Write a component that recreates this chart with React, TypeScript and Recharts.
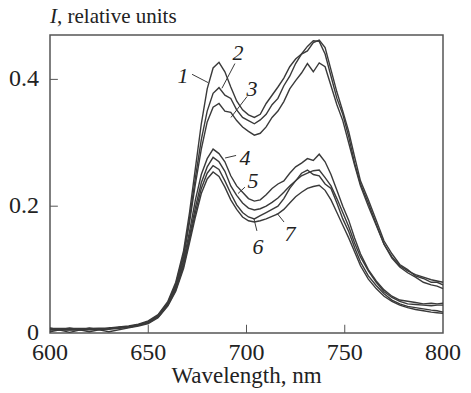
import { LineChart, Line, XAxis, YAxis, ReferenceLine, ReferenceArea, ReferenceDot } from "recharts";

// wavelength grid, nm
const wavelengths = [
  600, 610, 620, 630, 640, 645, 650, 655, 660, 664, 668, 671, 674, 677, 680, 683, 686, 689, 692, 695,
  698, 701, 704, 707, 710, 713, 716, 719, 722, 725, 728, 731, 734, 737, 740, 743, 746, 749, 752, 755,
  758, 762, 766, 770, 774, 778, 782, 786, 790, 794, 797, 800,
];

const curve1 = [
  0.007, 0.007, 0.007, 0.008, 0.011, 0.014, 0.019, 0.029, 0.05, 0.08, 0.13, 0.19, 0.26, 0.33, 0.385, 0.418, 0.427, 0.412, 0.388, 0.366,
  0.352, 0.344, 0.34, 0.345, 0.362, 0.375, 0.388, 0.402, 0.42, 0.432, 0.44, 0.452, 0.461, 0.46, 0.44, 0.405, 0.37, 0.345, 0.31, 0.268,
  0.235, 0.205, 0.172, 0.14, 0.12, 0.106, 0.098, 0.092, 0.088, 0.084, 0.082, 0.08,
];
const curve2 = [
  0.006, 0.006, 0.006, 0.007, 0.01, 0.013, 0.018, 0.028, 0.048, 0.077, 0.125, 0.18, 0.245, 0.305, 0.35, 0.378, 0.387, 0.375, 0.37, 0.352,
  0.34, 0.335, 0.33, 0.336, 0.345, 0.36, 0.37, 0.39, 0.405, 0.425, 0.44, 0.445, 0.458, 0.462, 0.45, 0.415, 0.38, 0.35, 0.318, 0.278,
  0.24, 0.21, 0.178, 0.145, 0.125, 0.108, 0.1, 0.09, 0.086, 0.08, 0.08, 0.076,
];
const curve3 = [
  0.005, 0.005, 0.006, 0.007, 0.01, 0.012, 0.017, 0.027, 0.047, 0.075, 0.12, 0.175, 0.235, 0.29, 0.333, 0.356, 0.362, 0.35, 0.348, 0.335,
  0.325, 0.318, 0.312, 0.315, 0.325, 0.34, 0.35, 0.365, 0.385, 0.398, 0.41, 0.425, 0.412, 0.426, 0.42, 0.39, 0.36, 0.335, 0.3, 0.265,
  0.232, 0.2, 0.17, 0.14, 0.118, 0.104, 0.095, 0.088, 0.08, 0.076, 0.074, 0.07,
];
const curve4 = [
  0.006, 0.005, 0.006, 0.007, 0.01, 0.013, 0.017, 0.027, 0.046, 0.072, 0.115, 0.16, 0.21, 0.25, 0.275, 0.29, 0.283, 0.27, 0.248, 0.232,
  0.222, 0.212, 0.208, 0.21, 0.218, 0.228, 0.235, 0.24, 0.252, 0.262, 0.268, 0.275, 0.272, 0.282, 0.27, 0.25, 0.225, 0.2, 0.178, 0.15,
  0.125, 0.1, 0.082, 0.068, 0.058, 0.052, 0.05, 0.048, 0.046, 0.047, 0.046, 0.047,
];
const curve5 = [
  0.005, 0.005, 0.005, 0.006, 0.009, 0.012, 0.016, 0.026, 0.045, 0.07, 0.11, 0.152, 0.198, 0.237, 0.262, 0.277, 0.27, 0.255, 0.232, 0.217,
  0.205, 0.197, 0.194, 0.196, 0.2, 0.206, 0.213, 0.222, 0.232, 0.24, 0.248, 0.252, 0.256, 0.257, 0.245, 0.232, 0.212, 0.19, 0.168, 0.142,
  0.12, 0.098, 0.08, 0.065, 0.056, 0.05, 0.046, 0.045, 0.044, 0.043, 0.044, 0.044,
];
const curve6 = [
  0.002, 0.008, 0.002, 0.008, 0.009, 0.012, 0.016, 0.025, 0.044, 0.068, 0.106, 0.147, 0.19, 0.228, 0.252, 0.264, 0.258, 0.24, 0.22, 0.202,
  0.19, 0.183, 0.18, 0.185, 0.19, 0.195, 0.2, 0.212, 0.228, 0.24, 0.252, 0.257, 0.25, 0.248, 0.235, 0.228, 0.205, 0.18, 0.16, 0.135,
  0.112, 0.09, 0.075, 0.062, 0.052, 0.046, 0.042, 0.04, 0.038, 0.036, 0.035, 0.033,
];
const curve7 = [
  0.008, 0.001, 0.008, 0.002, 0.008, 0.011, 0.015, 0.024, 0.043, 0.066, 0.102, 0.142, 0.183, 0.22, 0.243, 0.254, 0.247, 0.23, 0.21, 0.195,
  0.183, 0.177, 0.175, 0.177, 0.18, 0.184, 0.188, 0.195, 0.205, 0.215, 0.222, 0.228, 0.231, 0.233, 0.225, 0.21, 0.19, 0.17, 0.15, 0.128,
  0.106, 0.085, 0.07, 0.058, 0.05, 0.044, 0.04, 0.037, 0.035, 0.033, 0.032, 0.031,
];

const curves = [curve1, curve2, curve3, curve4, curve5, curve6, curve7];

const xTicks = [600, 650, 700, 750, 800];
const yTicks = [0, 0.2, 0.4];

// curve labels: text position and leader line ends, in data units
const labels = [
  { text: "1", x: 667.7, y: 0.406, from: [672.3, 0.408], to: [680.4, 0.395] },
  { text: "2", x: 695.7, y: 0.4425, from: [694.1, 0.425], to: [687.5, 0.386] },
  { text: "3", x: 702.8, y: 0.386, from: [700.3, 0.373], to: [692.1, 0.34] },
  { text: "4", x: 699.2, y: 0.277, from: [694.7, 0.28], to: [689.1, 0.276] },
  { text: "5", x: 703.3, y: 0.241, from: [699.2, 0.23], to: [695.7, 0.22] },
  { text: "6", x: 705.9, y: 0.137, from: [705.3, 0.161], to: [703.8, 0.18] },
  { text: "7", x: 722.1, y: 0.157, from: [719.1, 0.175], to: [715.5, 0.189] },
];

const data = wavelengths.map((w, i) => {
  const row: Record<string, number> = { w };
  curves.forEach((c, k) => (row["c" + (k + 1)] = c[i]));
  return row;
});

const serif = "'Liberation Serif', 'Times New Roman', Times, serif";
const ink = "#3a3a3a";
const textColor = "#222";

const XTick = ({ x, y, payload }: any) => (
  <text x={x} y={y + 27} textAnchor="middle" fill={textColor} fontSize={24} fontFamily={serif}>
    {payload.value}
  </text>
);

const YTick = ({ x, y, payload }: any) => (
  <text x={x} y={y + 6.5} textAnchor="end" fill={textColor} fontSize={24} fontFamily={serif}>
    {payload.value === 0 ? "0" : String(payload.value)}
  </text>
);

export default function App() {
  return (
    <div style={{ position: "absolute", left: 0, top: 0, width: 471, height: 393, background: "#fff" }}>
      <div
        style={{
          position: "absolute",
          left: 50,
          top: 4,
          fontFamily: serif,
          fontSize: 21,
          lineHeight: "24px",
          color: textColor,
          whiteSpace: "nowrap",
        }}
      >
        <i>I</i>, relative units
      </div>
      <LineChart width={471} height={393} data={data} margin={{ top: 35, right: 28, left: 0, bottom: 0 }}>
        <XAxis
          dataKey="w"
          type="number"
          domain={[600, 800]}
          ticks={xTicks}
          axisLine={false}
          tickLine={false}
          tickSize={0}
          tickMargin={0}
          tick={<XTick />}
          height={60}
          label={{ value: "Wavelength, nm", position: "insideBottom", offset: 10, fill: textColor, fontSize: 23, fontFamily: serif }}
        />
        <YAxis
          type="number"
          domain={[0, 0.47]}
          ticks={yTicks}
          axisLine={false}
          tickLine={false}
          width={50}
          tickSize={0}
          tickMargin={11}
          tick={<YTick />}
        />
        <ReferenceArea x1={600} x2={800} y1={0} y2={0.47} fill="none" stroke="#555" strokeWidth={1.5} />
        {xTicks.slice(1, -1).map((t) => (
          <ReferenceLine key={"xt" + t} segment={[{ x: t, y: 0 }, { x: t, y: 0.013 }]} stroke="#555" />
        ))}
        {yTicks.slice(1).map((t) => (
          <ReferenceLine key={"yt" + t} segment={[{ x: 600, y: t }, { x: 604, y: t }]} stroke="#555" />
        ))}
        {curves.map((_, k) => (
          <Line
            key={k}
            dataKey={"c" + (k + 1)}
            stroke={ink}
            strokeWidth={1.4}
            dot={false}
            type="linear"
            isAnimationActive={false}
          />
        ))}
        {labels.map((l) => (
          <ReferenceLine
            key={"ll" + l.text}
            segment={[{ x: l.from[0], y: l.from[1] }, { x: l.to[0], y: l.to[1] }]}
            stroke={ink}
            strokeWidth={1}
          />
        ))}
        {labels.map((l) => (
          <ReferenceDot
            key={"lt" + l.text}
            x={l.x}
            y={l.y}
            r={0}
            fill="none"
            stroke="none"
            label={{ value: l.text, position: "center", fill: textColor, fontSize: 22, fontFamily: serif, fontStyle: "italic" }}
          />
        ))}
      </LineChart>
    </div>
  );
}
